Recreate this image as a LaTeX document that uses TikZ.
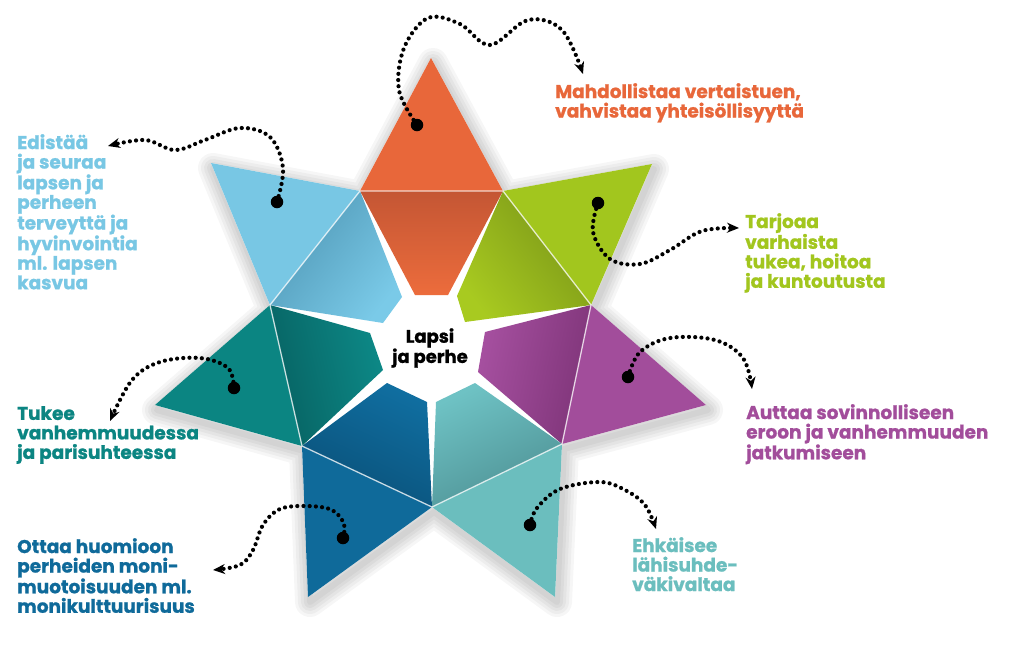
\documentclass[tikz,border=0pt]{standalone}
\usepackage{fontspec}
\setmainfont{Poppins}[BoldFeatures={FakeBold=1}]
\usetikzlibrary{arrows.meta}
\definecolor{cOr}{RGB}{232,103,58}
\definecolor{cOrL}{RGB}{236,108,60}
\definecolor{cOrD}{RGB}{196,86,52}
\definecolor{cGr}{RGB}{162,198,30}
\definecolor{cGrL}{RGB}{168,202,32}
\definecolor{cGrD}{RGB}{122,150,24}
\definecolor{cPu}{RGB}{162,77,155}
\definecolor{cPuL}{RGB}{166,80,160}
\definecolor{cPuD}{RGB}{126,52,120}
\definecolor{cLt}{RGB}{107,190,190}
\definecolor{cLtL}{RGB}{110,194,196}
\definecolor{cLtD}{RGB}{78,145,148}
\definecolor{cDb}{RGB}{15,106,154}
\definecolor{cDbL}{RGB}{16,110,160}
\definecolor{cDbD}{RGB}{10,80,120}
\definecolor{cDt}{RGB}{11,133,130}
\definecolor{cDtL}{RGB}{13,137,135}
\definecolor{cDtD}{RGB}{7,98,98}
\definecolor{cLb}{RGB}{120,199,228}
\definecolor{cLbL}{RGB}{122,202,232}
\definecolor{cLbD}{RGB}{80,152,182}
\begin{document}
\begin{tikzpicture}[x=1pt,y=-1pt,
  lbl/.style={anchor=north west, inner sep=0pt, align=left,
    font=\bfseries\fontsize{18.5}{19.5}\selectfont},
  conn/.style={line width=4.2pt, line cap=round, dash pattern=on 0pt off 6.2pt,
    -{Stealth[length=12pt,width=10pt]}},
  startdot/.style={circle, fill=black, inner sep=0pt, minimum size=12.5pt},
  seam/.style={draw=white, draw opacity=0.75, line width=1.3pt}]
\useasboundingbox (0,0) rectangle (1024,654);
\fill[white] (0,0) rectangle (1024,654);
% soft shadow
\foreach \w in {30,24,18,12,6}{
  \draw[black, opacity=0.035, line width=\w pt, line join=round, shift={(2,5)}]
   (431,58) -- (503,191) -- (652,164) -- (591,305) -- (706,405) -- (562,444) --
   (555,597) -- (432,507) -- (308,597) -- (302,446) -- (155,405) -- (270,305) --
   (211,163) -- (360,191) -- cycle;}
\fill[white] (431,58) -- (503,191) -- (652,164) -- (591,305) -- (706,405) -- (562,444) --
   (555,597) -- (432,507) -- (308,597) -- (302,446) -- (155,405) -- (270,305) --
   (211,163) -- (360,191) -- cycle;
% octagon vertices
\coordinate (V1) at (360,191);
\coordinate (V2) at (503,191);
\coordinate (V3) at (591,305);
\coordinate (V4) at (562,444);
\coordinate (V5) at (432,507);
\coordinate (V6) at (302,446);
\coordinate (V7) at (270,305);
% outer triangles
\fill[cOr] (431,58) -- (V1) -- (V2) -- cycle;
\fill[cGr] (652,164) -- (V2) -- (V3) -- cycle;
\fill[cPu] (706,405) -- (V3) -- (V4) -- cycle;
\fill[cLt] (555,597) -- (V4) -- (V5) -- cycle;
\fill[cDb] (308,597) -- (V5) -- (V6) -- cycle;
\fill[cDt] (155,405) -- (V6) -- (V7) -- cycle;
\fill[cLb] (211,163) -- (V7) -- (V1) -- cycle;
% inner sectors (darker toward the outer edge)
\shade[left color=cOrL, right color=cOrD, shading angle=180] (V1) -- (V2) -- (448,295) -- (415,295) -- cycle;
\shade[left color=cGrL, right color=cGrD, shading angle=128] (V2) -- (V3) -- (465,322) -- (457,296) -- cycle;
\shade[left color=cPuL, right color=cPuD, shading angle=78] (V3) -- (V4) -- (478,372) -- (485,332) -- cycle;
\shade[left color=cLtL, right color=cLtD, shading angle=26] (V4) -- (V5) -- (436,402) -- (475,383) -- cycle;
\shade[left color=cDbL, right color=cDbD, shading angle=-25] (V5) -- (V6) -- (387,383) -- (427,402) -- cycle;
\shade[left color=cDtL, right color=cDtD, shading angle=-77] (V6) -- (V7) -- (370,333) -- (383,370) -- cycle;
\shade[left color=cLbL, right color=cLbD, shading angle=232] (V7) -- (V1) -- (402,297) -- (383,323) -- cycle;
% seams
\draw[seam] (V1) -- (V2) -- (V3) -- (V4) -- (V5) -- (V6) -- (V7) -- cycle;
% centre
\node[font=\bfseries\fontsize{18}{16.5}\selectfont, align=center, text=black, inner sep=0pt] (ctr) at (430,348) {Lapsi\\ja perhe};
% labels
\node[lbl, text=cOr] (t1) at (555,83) {Mahdollistaa vertaistuen,\\vahvistaa yhteisöllisyyttä};
\node[lbl, text=cLb] (t2) at (17,134) {Edistää\\ja seuraa\\lapsen ja\\perheen\\terveyttä ja\\hyvinvointia\\ml. lapsen\\kasvua};
\node[lbl, text=cGr] (t3) at (745,213) {Tarjoaa\\varhaista\\tukea, hoitoa\\ja kuntoutusta};
\node[lbl, text=cPu] (t4) at (746,404) {Auttaa sovinnolliseen\\eroon ja vanhemmuuden\\jatkumiseen};
\node[lbl, text=cLt] (t5) at (632,537) {Ehkäisee\\lähisuhde-\\väkivaltaa};
\node[lbl, text=cDt] (t6) at (17,406) {Tukee\\vanhemmuudessa\\ja parisuhteessa};
\node[lbl, text=cDb] (t7) at (17,538) {Ottaa huomioon\\perheiden moni-\\muotoisuuden ml.\\monikulttuurisuus};
% start dots
\node[startdot] (d1) at (417,125) {};
\node[startdot] (d2) at (277,202) {};
\node[startdot] (d3) at (598,203) {};
\node[startdot] (d4) at (628,377) {};
\node[startdot] (d5) at (234,388) {};
\node[startdot] (d6) at (343,538) {};
\node[startdot] (d7) at (530,525) {};
% arrow ends
\coordinate (a1) at (583,74);
\coordinate (a2) at (108,146);
\coordinate (a3) at (739,228);
\coordinate (a4) at (752,389);
\coordinate (a5) at (110,421);
\coordinate (a6) at (213,570);
\coordinate (a7) at (656,529);
% connectors
\draw[conn] plot[smooth, tension=0.6] coordinates {(d1.center) (399,90) (404,48) (428,18) (460,24) (490,45) (528,20) (562,30) (a1)};
\draw[conn] plot[smooth, tension=0.6] coordinates {(d2.center) (283,168) (270,137) (240,128) (205,140) (175,150) (145,140) (a2)};
\draw[conn] plot[smooth, tension=0.6] coordinates {(d3.center) (593,232) (610,259) (640,264) (670,250) (702,231) (a3)};
\draw[conn] plot[smooth, tension=0.6] coordinates {(d4.center) (640,352) (670,338) (715,340) (743,358) (a4)};
\draw[conn] plot[smooth, tension=0.6] coordinates {(d5.center) (228,368) (200,358) (160,362) (132,380) (a5)};
\draw[conn] plot[smooth, tension=0.6] coordinates {(d6.center) (344,524) (332,510) (307,506) (280,509) (263,525) (253,550) (240,565) (a6)};
\draw[conn] plot[smooth, tension=0.6] coordinates {(d7.center) (537,508) (560,489) (600,482) (625,490) (645,505) (a7)};
\end{tikzpicture}
\end{document}
